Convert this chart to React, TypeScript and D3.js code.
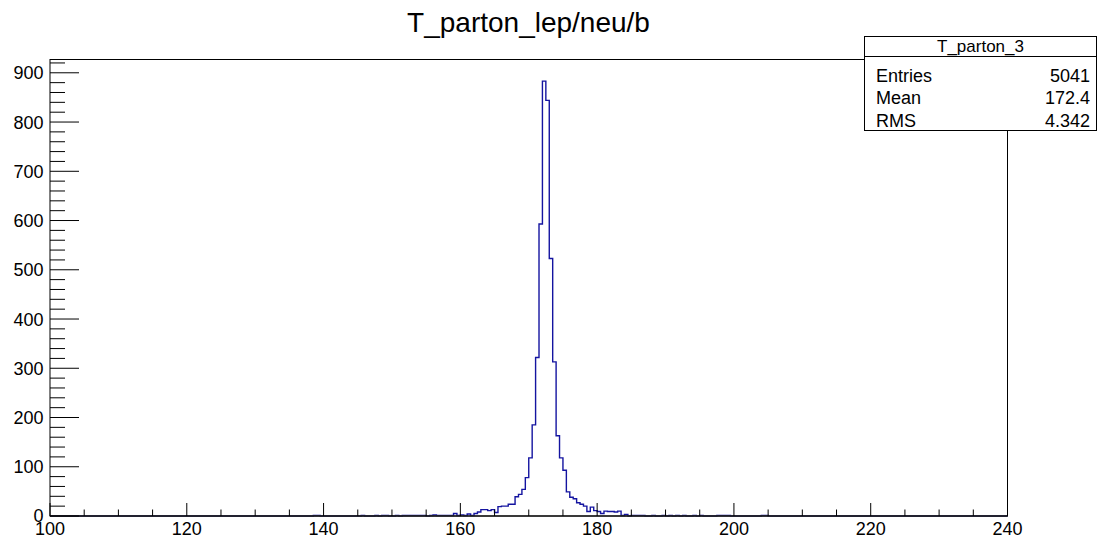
import React from "react";
import * as d3 from "d3";

// Histogram T_parton_3: 280 bins of width 0.5 from 100 to 240; only non-empty bins listed
const X_MIN = 100;
const X_MAX = 240;
const BIN_WIDTH = 0.5;
const binLowEdges = [
  138.5, 139, 145.5, 147.5, 148.5, 149, 150.5, 151.5, 152, 152.5, 153, 153.5, 154, 154.5,
  155.5, 156, 156.5, 157, 157.5, 158, 158.5, 159, 159.5, 160, 160.5, 161, 161.5, 162, 162.5,
  163, 163.5, 164, 164.5, 165, 165.5, 166, 166.5, 167, 167.5, 168, 168.5, 169, 169.5, 170,
  170.5, 171, 171.5, 172, 172.5, 173, 173.5, 174, 174.5, 175, 175.5, 176, 176.5, 177, 177.5,
  178, 178.5, 179, 179.5, 180, 180.5, 181, 181.5, 182, 182.5, 183, 183.5, 184, 185, 185.5,
  186, 186.5, 188, 189.5, 190.5, 191.5, 192.5, 194, 195, 197.5, 198, 198.5, 199, 204, 204.5,
];
const binCounts = [
  1, 1, 1, 1, 1, 1, 1, 1, 1, 1, 1, 1, 1, 1,
  1, 2, 1, 1, 1, 1, 1, 5, 1, 2, 1, 4, 1, 5, 8,
  13, 13, 11, 13, 7, 19, 20, 20, 24, 24, 39, 44, 54, 78, 118,
  185, 322, 593, 883, 844, 523, 313, 163, 118, 93, 49, 38, 35, 27, 24,
  20, 9, 18, 11, 9, 5, 10, 9, 9, 8, 10, 1, 3, 1, 1,
  1, 1, 1, 1, 1, 1, 1, 1, 1, 1, 1, 1, 1, 1, 1,
];

const xMajorTicks = [100, 120, 140, 160, 180, 200, 220, 240];
const yMajorTicks = [0, 100, 200, 300, 400, 500, 600, 700, 800, 900];
const Y_MAX = 927;

const titleText = "T_parton_lep/neu/b";
const statsName = "T_parton_3";
const statsLabels = ["Entries", "Mean", "RMS"];
const statsValues = ["5041", "172.4", "4.342"];

const W = 1099;
const H = 541;
const FONT = "'Liberation Sans', Arial, Helvetica, sans-serif";

export default function App() {
  const left = 50;
  const right = 1007.5;
  const top = 59.5;
  const bottom = 516;

  const x = d3.scaleLinear().domain([X_MIN, X_MAX]).range([left, right]);
  const y = d3.scaleLinear().domain([0, Y_MAX]).range([bottom, top]);

  // full bin array
  const nBins = Math.round((X_MAX - X_MIN) / BIN_WIDTH);
  const counts: number[] = new Array(nBins).fill(0);
  binLowEdges.forEach((e, i) => {
    const idx = Math.round((e - X_MIN) / BIN_WIDTH);
    counts[idx] = binCounts[i];
  });

  const pts: [number, number][] = [];
  pts.push([X_MIN, 0]);
  counts.forEach((c, i) => {
    const lo = X_MIN + i * BIN_WIDTH;
    pts.push([lo, c]);
    pts.push([lo + BIN_WIDTH, c]);
  });
  pts.push([X_MAX, 0]);
  const line = d3
    .line<[number, number]>()
    .x((d) => x(d[0]))
    .y((d) => y(d[1]));

  const xMinor = d3.range(X_MIN, X_MAX + 0.001, 5);
  const yMinor = d3.range(0, Y_MAX, 20);

  const sx = 864.5;
  const sx2 = 1096.5;
  const sy = 36.5;
  const sy2 = 130.5;

  return (
    <svg
      width={W}
      height={H}
      style={{ position: "absolute", left: 0, top: 0, background: "#fff" }}
      fontFamily={FONT}
    >
      <rect x={0} y={0} width={W} height={H} fill="#fff" />
      <text x={528.5} y={32} fontSize={28} textAnchor="middle" fill="#000">
        {titleText}
      </text>

      {/* histogram */}
      <path d={line(pts) || ""} fill="none" stroke="#1414a0" strokeWidth={1.4} />

      {/* frame */}
      <rect
        x={left}
        y={top}
        width={right - left}
        height={bottom - top}
        fill="none"
        stroke="#000"
        strokeWidth={1}
      />
      <line x1={left} x2={right} y1={bottom} y2={bottom} stroke="#222" strokeWidth={1.6} />

      {/* x axis ticks */}
      {xMinor.map((v) => {
        const major = xMajorTicks.includes(v);
        return (
          <line
            key={"xm" + v}
            x1={x(v)}
            x2={x(v)}
            y1={bottom}
            y2={bottom - (major ? 13 : 6.5)}
            stroke="#000"
            strokeWidth={1}
          />
        );
      })}
      {xMajorTicks.map((v) => (
        <text key={"xl" + v} x={x(v)} y={534.5} fontSize={18} textAnchor="middle" fill="#000">
          {v}
        </text>
      ))}

      {/* y axis ticks */}
      {yMinor.map((v) => {
        const major = yMajorTicks.includes(v);
        return (
          <line
            key={"ym" + v}
            x1={left}
            x2={left + (major ? 29 : 15)}
            y1={y(v)}
            y2={y(v)}
            stroke="#000"
            strokeWidth={1}
          />
        );
      })}
      {yMajorTicks.map((v) => (
        <text
          key={"yl" + v}
          x={43.5}
          y={y(v)}
          dy="0.36em"
          fontSize={18}
          textAnchor="end"
          fill="#000"
        >
          {v}
        </text>
      ))}

      {/* stats box */}
      <rect x={sx} y={sy} width={sx2 - sx} height={sy2 - sy} fill="#fff" stroke="#000" strokeWidth={1} />
      <line x1={sx} x2={sx2} y1={56.5} y2={56.5} stroke="#000" strokeWidth={1} />
      <text x={(sx + sx2) / 2} y={52} fontSize={17} textAnchor="middle" fill="#000">
        {statsName}
      </text>
      {statsLabels.map((l, i) => (
        <g key={l}>
          <text x={876} y={81.5 + i * 22.5} fontSize={18} fill="#000">
            {l}
          </text>
          <text x={1090} y={81.5 + i * 22.5} fontSize={18} textAnchor="end" fill="#000">
            {statsValues[i]}
          </text>
        </g>
      ))}
    </svg>
  );
}
